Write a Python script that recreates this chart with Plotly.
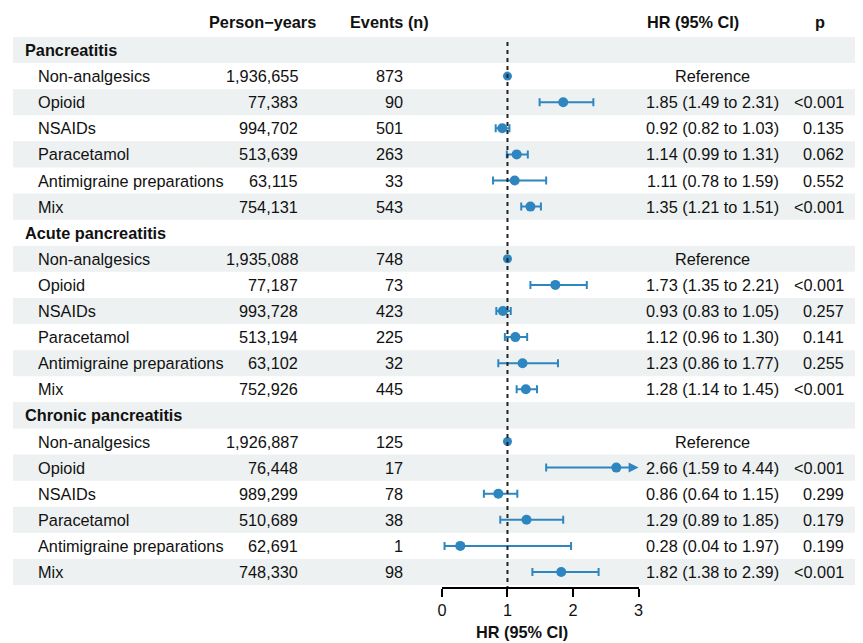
import plotly.graph_objects as go

# ---------------- data ----------------
sections = ["Pancreatitis", "Acute pancreatitis", "Chronic pancreatitis"]
groups = ["Non-analgesics", "Opioid", "NSAIDs", "Paracetamol",
          "Antimigraine preparations", "Mix"]

person_years = [
    ["1,936,655", "77,383", "994,702", "513,639", "63,115", "754,131"],
    ["1,935,088", "77,187", "993,728", "513,194", "63,102", "752,926"],
    ["1,926,887", "76,448", "989,299", "510,689", "62,691", "748,330"],
]
events = [
    ["873", "90", "501", "263", "33", "543"],
    ["748", "73", "423", "225", "32", "445"],
    ["125", "17", "78", "38", "1", "98"],
]
hr = [
    [1.00, 1.85, 0.92, 1.14, 1.11, 1.35],
    [1.00, 1.73, 0.93, 1.12, 1.23, 1.28],
    [1.00, 2.66, 0.86, 1.29, 0.28, 1.82],
]
hr_low = [
    [None, 1.49, 0.82, 0.99, 0.78, 1.21],
    [None, 1.35, 0.83, 0.96, 0.86, 1.14],
    [None, 1.59, 0.64, 0.89, 0.04, 1.38],
]
hr_high = [
    [None, 2.31, 1.03, 1.31, 1.59, 1.51],
    [None, 2.21, 1.05, 1.30, 1.77, 1.45],
    [None, 4.44, 1.15, 1.85, 1.97, 2.39],
]
p_values = [
    ["", "<0.001", "0.135", "0.062", "0.552", "<0.001"],
    ["", "<0.001", "0.257", "0.141", "0.255", "<0.001"],
    ["", "<0.001", "0.299", "0.179", "0.199", "<0.001"],
]
x_ticks = [0, 1, 2, 3]
x_max = 3

# ---------------- layout geometry ----------------
OFF = 8  # page body margin
W, H = 863 - OFF, 643 - OFF
ROW0_PX, ROW_PX = 50.0, 26.1   # page pixels
AXIS_PX = 587.0


def px_to_row(p):
    return (p - ROW0_PX) / ROW_PX


def fx(px):
    return (px - OFF) / W


def fy(py):
    return 1 - (py - OFF) / H


FONT = "Liberation Sans, Arial, sans-serif"
BLUE = "#2E86C1"
BAND = "#EEF1F1"
TXT = "#111111"
FS = 16.3

fig = go.Figure()
annotations = []
shapes = []


def txt(text, x, y, anchor, yref="y"):
    annotations.append(dict(x=fx(x), y=y, xref="paper", yref=yref,
                            text=text, showarrow=False, borderpad=0,
                            borderwidth=0, xanchor=anchor, yanchor="middle",
                            font=dict(family=FONT, size=FS, color=TXT)))


# header row
hdr_row = px_to_row(22)
for text, x in [("Person\u2212years", 260), ("Events (n)", 389),
                ("HR (95% CI)", 696), ("p", 825)]:
    txt(f"<b>{text}</b>", x, hdr_row, "center")

pt_x, pt_y, err_plus, err_minus = [], [], [], []
ref_x, ref_y = [], []
n_rows = len(sections) * (len(groups) + 1)
for r in range(n_rows):
    if r % 2 == 0:
        shapes.append(dict(type="rect", xref="paper", yref="y",
                           x0=fx(8), x1=1, y0=r - 0.5, y1=r + 0.5,
                           fillcolor=BAND, line=dict(width=0), layer="below"))

row = 0
for s, sec in enumerate(sections):
    txt(f"<b>{sec}</b>", 20, row, "left")
    row += 1
    for g, grp in enumerate(groups):
        cells = [(grp, 33, "left"), (person_years[s][g], 296, "right"),
                 (events[s][g], 403, "right"), (p_values[s][g], 849, "right")]
        if hr_low[s][g] is None:
            cells.append(("Reference", 716, "center"))
            ref_x.append(hr[s][g])
            ref_y.append(row)
        else:
            cells.append((f"{hr[s][g]:.2f} ({hr_low[s][g]:.2f} to {hr_high[s][g]:.2f})",
                          716, "center"))
            pt_x.append(hr[s][g])
            pt_y.append(row)
            err_minus.append(hr[s][g] - hr_low[s][g])
            if hr_high[s][g] > x_max:
                err_plus.append(0)
                annotations.append(dict(x=x_max, y=row, ax=hr[s][g], ay=row,
                                        xref="x", yref="y", axref="x", ayref="y",
                                        showarrow=True, arrowhead=2, arrowsize=1,
                                        arrowwidth=2, arrowcolor=BLUE, text=""))
            else:
                err_plus.append(hr_high[s][g] - hr[s][g])
        for text, x, anchor in cells:
            if text:
                txt(text, x, row, anchor)
        row += 1

# reference line at HR = 1
shapes.append(dict(type="line", xref="x", yref="y", x0=1, x1=1,
                   y0=px_to_row(42), y1=px_to_row(AXIS_PX),
                   line=dict(color="#222222", width=2, dash="4px,4px")))

fig.add_trace(go.Scatter(
    x=pt_x, y=pt_y, mode="markers",
    marker=dict(color=BLUE, size=10),
    error_x=dict(type="data", symmetric=False, array=err_plus,
                 arrayminus=err_minus, color=BLUE, thickness=2, width=4),
    showlegend=False, hoverinfo="skip", cliponaxis=False))
fig.add_trace(go.Scatter(
    x=ref_x, y=ref_y, mode="markers",
    marker=dict(color=BLUE, size=9),
    showlegend=False, hoverinfo="skip", cliponaxis=False))

# axis title
txt("<b>HR (95% CI)</b>", 523, fy(632), "center", yref="paper")

fig.update_layout(
    width=W, height=H,
    margin=dict(l=0, r=0, t=0, b=0),
    paper_bgcolor="white", plot_bgcolor="rgba(0,0,0,0)",
    showlegend=False,
    shapes=shapes, annotations=annotations,
    xaxis=dict(domain=[fx(442), fx(641)], range=[0, x_max],
               tickmode="array", tickvals=x_ticks,
               ticktext=[str(t) for t in x_ticks],
               showgrid=False, zeroline=False, showline=True,
               linecolor="black", linewidth=1.5,
               ticks="outside", ticklen=8, tickwidth=1.5, tickcolor="black",
               tickfont=dict(family=FONT, size=FS, color=TXT),
               fixedrange=True),
    yaxis=dict(domain=[fy(AXIS_PX), 1],
               range=[px_to_row(AXIS_PX), px_to_row(OFF)],
               visible=False, showgrid=False, zeroline=False,
               fixedrange=True),
)

fig.write_html("out.html")
